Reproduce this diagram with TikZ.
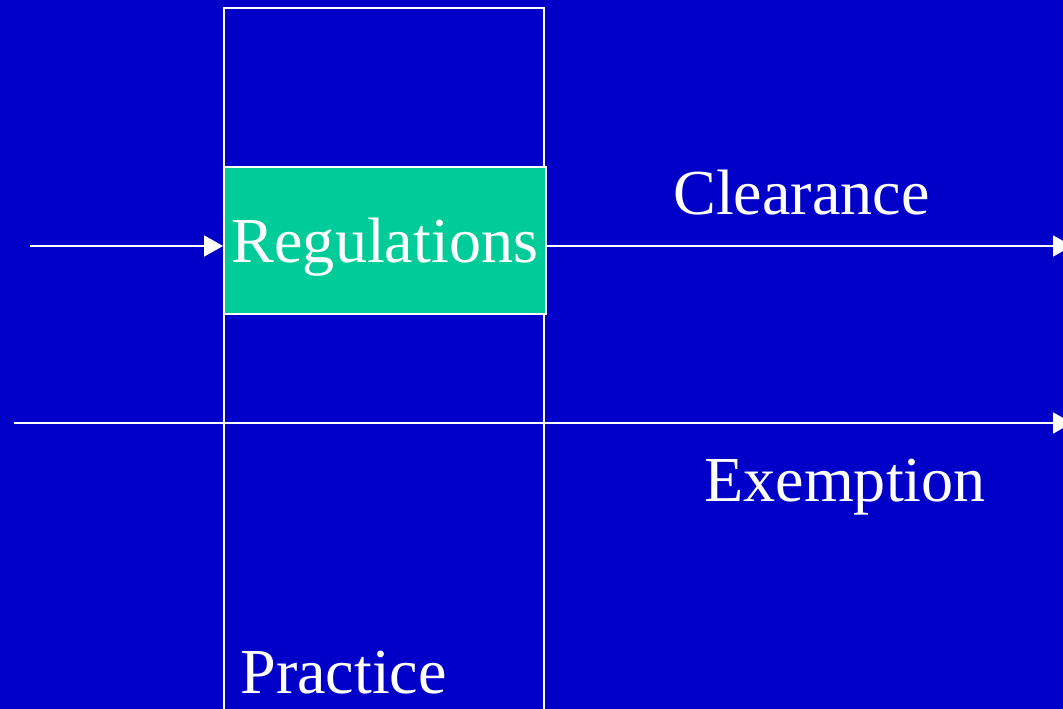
\documentclass[tikz,border=0pt]{standalone}
\usepackage{fontspec}
\setmainfont{Liberation Serif}
\usetikzlibrary{arrows.meta,positioning}
\definecolor{slideblue}{RGB}{0,0,200}
\definecolor{boxgreen}{RGB}{0,204,153}

\begin{document}
\begin{tikzpicture}[x=0.02cm,y=-0.02cm,>={Triangle[length=0.38cm,width=0.42cm]},
  every node/.style={font=\fontsize{36.5}{40}\selectfont,text=white},
  frame/.style={draw=white,line width=1.1pt,inner sep=0pt,anchor=north west},
  lbl/.style={inner sep=0pt,anchor=base west},
  flow/.style={->,white,line width=1.1pt}]
% background
\fill[slideblue] (0,0) rectangle (1063,709);
\useasboundingbox (0,0) rectangle (1063,709);
% column and the highlighted box
\node[frame,minimum width=6.4cm,minimum height=15cm] (practice) at (223,7) {};
\node[frame,fill=boxgreen,minimum width=6.44cm,minimum height=2.94cm,text depth=0pt] (regs) at (223,166) {Regulations};
\node[lbl] (practicelbl) at (240,694) {Practice};
\node[lbl] (clear) at (673,215) {Clearance};
\node[lbl] (exempt) at (704,502) {Exemption};
% ends of the arrows
\coordinate (in) at (30,246);
\coordinate (out) at (1072,246);
\coordinate (exin) at (14,423);
\coordinate (exout) at (1072,423);
\draw[flow] (in) -- (in -| regs.west);
\draw[flow] (out -| regs.east) -- (out);
\draw[flow] (exin) -- (exout);
\end{tikzpicture}
\end{document}
